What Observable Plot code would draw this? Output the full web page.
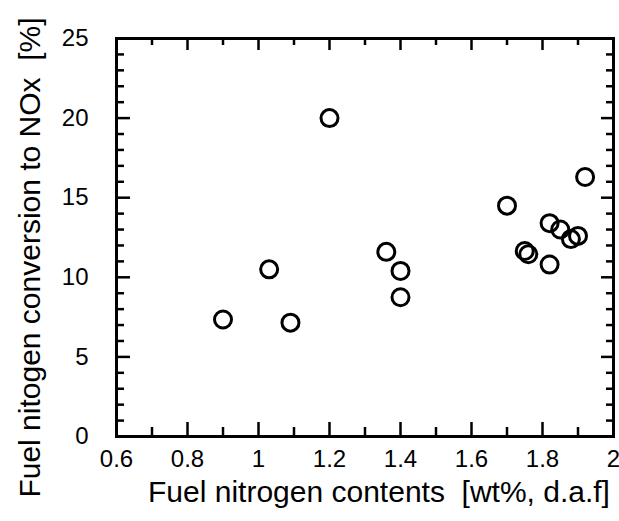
<!DOCTYPE html>
<html>
<head>
<meta charset="utf-8">
<script src="https://cdn.jsdelivr.net/npm/d3@7"></script>
<script src="https://cdn.jsdelivr.net/npm/@observablehq/plot@0.6"></script>
<style>
  html, body { margin: 0; padding: 0; background: #fff; }
  #chart svg { display: block; }
</style>
</head>
<body>
<div id="chart"></div>
<script>
// Data
const fuelN = [0.90, 1.03, 1.09, 1.20, 1.36, 1.40, 1.40, 1.70, 1.75, 1.76, 1.82, 1.82, 1.85, 1.88, 1.90, 1.92];
const conversion = [7.35, 10.5, 7.15, 20.0, 11.6, 10.4, 8.75, 14.5, 11.65, 11.45, 13.4, 10.8, 13.0, 12.4, 12.6, 16.3];

const xMajorTicks = [0.6, 0.8, 1.0, 1.2, 1.4, 1.6, 1.8, 2.0];
const xMinorTicks = [0.7, 0.9, 1.1, 1.3, 1.5, 1.7, 1.9];
const yMajorTicks = [0, 5, 10, 15, 20, 25];
const yMinorTicks = [1, 2, 3, 4, 6, 7, 8, 9, 11, 12, 13, 14, 16, 17, 18, 19, 21, 22, 23, 24];

const xTitle = "Fuel nitrogen contents  [wt%, d.a.f]";
const yTitle = "Fuel nitogen conversion to NOx  [%]";

const points = fuelN.map((x, i) => ({x, y: conversion[i]}));
const fmt = d => String(+d.toFixed(1));

const W = 619, H = 521;
const mL = 116, mR = 6, mT = 38, mB = 85;
const fw = W - mL - mR, fh = H - mT - mB;
const tw = 2.5;

const chart = Plot.plot({
  width: W,
  height: H,
  marginLeft: mL,
  marginRight: mR,
  marginTop: mT,
  marginBottom: mB,
  style: {fontFamily: "'Liberation Sans', Arial, Helvetica, sans-serif", fontSize: "24px", color: "black", background: "white"},
  x: {domain: [0.6, 2.0]},
  y: {domain: [0, 25]},
  marks: [
    // inward ticks on all four sides
    Plot.ruleY(yMajorTicks, {y: d => d, insetRight: fw - 14, strokeWidth: tw}),
    Plot.ruleY(yMinorTicks, {y: d => d, insetRight: fw - 8, strokeWidth: tw}),
    Plot.ruleY(yMajorTicks, {y: d => d, insetLeft: fw - 12, strokeWidth: tw}),
    Plot.ruleY(yMinorTicks, {y: d => d, insetLeft: fw - 7, strokeWidth: tw}),
    Plot.ruleX(xMajorTicks, {x: d => d, insetTop: fh - 14, strokeWidth: tw}),
    Plot.ruleX(xMinorTicks, {x: d => d, insetTop: fh - 9, strokeWidth: tw}),
    Plot.ruleX(xMajorTicks, {x: d => d, insetBottom: fh - 12, strokeWidth: tw}),
    Plot.ruleX(xMinorTicks, {x: d => d, insetBottom: fh - 7, strokeWidth: tw}),
    Plot.frame({strokeWidth: 3}),
    // tick labels
    Plot.axisY(yMajorTicks, {anchor: "left", tickSize: 0, tickPadding: 28, label: null, tickFormat: fmt, fill: "black"}),
    Plot.axisX(xMajorTicks, {anchor: "bottom", tickSize: 0, tickPadding: 13, label: null, tickFormat: fmt, fill: "black"}),
    // titles
    Plot.text([xTitle], {frameAnchor: "bottom", text: d => d, textAnchor: "middle", dx: 14, dy: 56, lineAnchor: "middle", fontSize: 30, letterSpacing: "0.4px", fill: "black"}),
    Plot.text([yTitle], {frameAnchor: "left", text: d => d, textAnchor: "middle", rotate: -90, dx: -86, dy: 20, lineAnchor: "middle", fontSize: 30, letterSpacing: "0.4px", fill: "black"}),
    // data
    Plot.dot(points, {x: "x", y: "y", r: 8.5, stroke: "black", strokeWidth: 3, fill: "none"})
  ]
});
document.getElementById("chart").appendChild(chart);
</script>
</body>
</html>
